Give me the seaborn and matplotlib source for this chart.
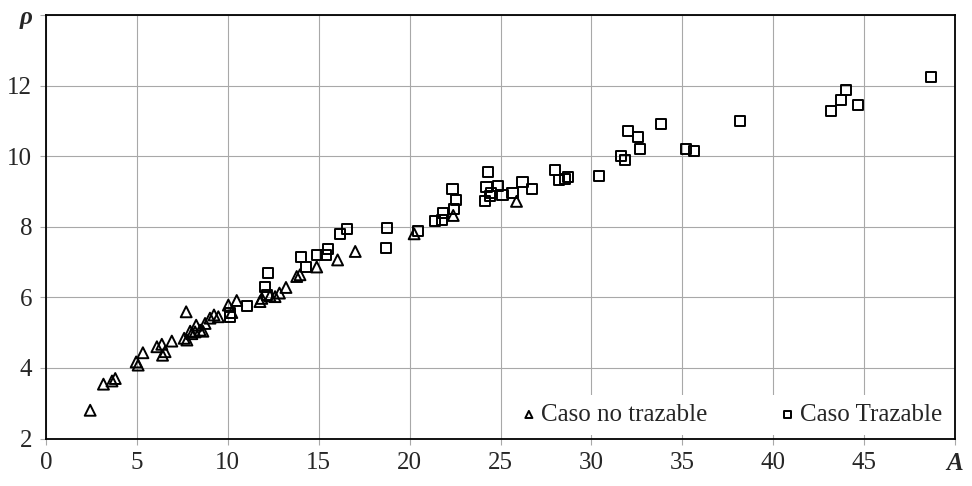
import numpy as np
import pandas as pd
import matplotlib
matplotlib.use("Agg")
import matplotlib.pyplot as plt
import seaborn as sns

# --- data ---
no_traz_A = [2.43, 3.16, 3.63, 3.81, 4.96, 5.07, 5.33, 6.10, 6.37, 6.41, 6.55, 6.92,
             7.71, 7.60, 7.75, 7.93, 8.02, 8.26, 8.20, 8.48, 8.63, 8.75, 9.02, 9.24,
             9.48, 10.03, 10.22, 10.49, 11.77, 11.87, 12.32, 12.60, 12.84, 13.20,
             13.79, 13.97, 14.89, 16.04, 17.01, 20.25, 22.40, 25.88]
no_traz_rho = [2.80, 3.54, 3.63, 3.70, 4.17, 4.08, 4.43, 4.60, 4.67, 4.36, 4.46, 4.76,
               5.59, 4.84, 4.79, 5.04, 4.97, 5.21, 5.02, 5.07, 5.04, 5.26, 5.41, 5.50,
               5.45, 5.78, 5.57, 5.91, 5.88, 5.97, 6.04, 6.02, 6.12, 6.28,
               6.59, 6.64, 6.86, 7.06, 7.30, 7.80, 8.32, 8.72]

traz_A = [10.13, 10.13, 11.08, 12.05, 12.23, 12.14, 14.03, 14.30, 14.89, 15.40, 15.49,
          16.17, 16.54, 18.68, 18.77, 20.47, 21.39, 21.76, 21.85, 22.43, 22.54, 22.36,
          24.14, 24.41, 24.23, 24.32, 24.50, 24.87, 25.11, 25.66, 26.21, 26.74, 27.98,
          28.20, 28.57, 28.71, 30.42, 31.65, 31.83, 32.01, 32.56, 32.66, 33.81, 35.22,
          35.62, 38.20, 43.19, 43.74, 44.01, 44.65, 48.68]
traz_rho = [5.45, 5.55, 5.76, 6.29, 6.69, 6.07, 7.14, 6.87, 7.19, 7.19, 7.38,
            7.80, 7.94, 7.41, 7.97, 7.89, 8.17, 8.20, 8.39, 8.49, 8.77, 9.08,
            8.72, 8.88, 9.13, 9.55, 8.96, 9.15, 8.91, 8.96, 9.27, 9.08, 9.60,
            9.32, 9.34, 9.42, 9.45, 10.00, 9.88, 10.71, 10.53, 10.21, 10.90, 10.21,
            10.16, 10.99, 11.27, 11.60, 11.87, 11.45, 12.23]

series_labels = ["Caso no trazable", "Caso Trazable"]
x_ticks = [0, 5, 10, 15, 20, 25, 30, 35, 40, 45, 50]
x_ticklabels = ["0", "5", "10", "15", "20", "25", "30", "35", "40", "45", "A"]
y_ticks = [2, 4, 6, 8, 10, 12, 14]
y_ticklabels = ["2", "4", "6", "8", "10", "12", "ρ"]

df_nt = pd.DataFrame({"A": no_traz_A, "rho": no_traz_rho})
df_t = pd.DataFrame({"A": traz_A, "rho": traz_rho})

sns.set_style("white")
plt.rcParams["font.family"] = ["Liberation Serif", "DejaVu Serif"]

fig = plt.figure(figsize=(9.72, 4.86), dpi=100)
ax = fig.add_axes([46 / 972, 1 - 438.5 / 486, (955 - 46) / 972, (438.5 - 15) / 486])

sns.scatterplot(data=df_nt, x="A", y="rho", ax=ax, marker="^", s=62,
                facecolor="none", edgecolor="black", linewidth=1.4,
                label=series_labels[0], zorder=3)
sns.scatterplot(data=df_t, x="A", y="rho", ax=ax, marker="s", s=52,
                facecolor="none", edgecolor="black", linewidth=1.4,
                label=series_labels[1], zorder=3)

ax.set_xlim(0, 50)
ax.set_ylim(2, 14)
ax.set_xticks(x_ticks)
ax.set_yticks(y_ticks)
ax.set_xticklabels(x_ticklabels)
ax.set_yticklabels(y_ticklabels)
for lbls in (ax.get_xticklabels(), ax.get_yticklabels()):
    lbls[-1].set_fontweight("bold")
    lbls[-1].set_fontstyle("italic")
    lbls[-1].set_fontsize(21)

ax.grid(True, color="#a8a8a8", linewidth=0.8)
ax.set_axisbelow(True)
ax.tick_params(axis="both", which="major", length=4, width=0.8, color="#a8a8a8",
               labelsize=18, pad=6, direction="out", bottom=True, left=True)
for sp in ax.spines.values():
    sp.set_color("black")
    sp.set_linewidth(1.3)
    sp.set_visible(True)
ax.set_xlabel("")
ax.set_ylabel("")

leg = ax.legend(loc="lower right", ncol=2, frameon=True, fancybox=False,
                facecolor="white", edgecolor="none", framealpha=1,
                fontsize=18, markerscale=0.65, handletextpad=0.0, handlelength=1.0,
                columnspacing=2.7, borderaxespad=0.15, borderpad=0.35)

fig.savefig("out.png", dpi=100)
